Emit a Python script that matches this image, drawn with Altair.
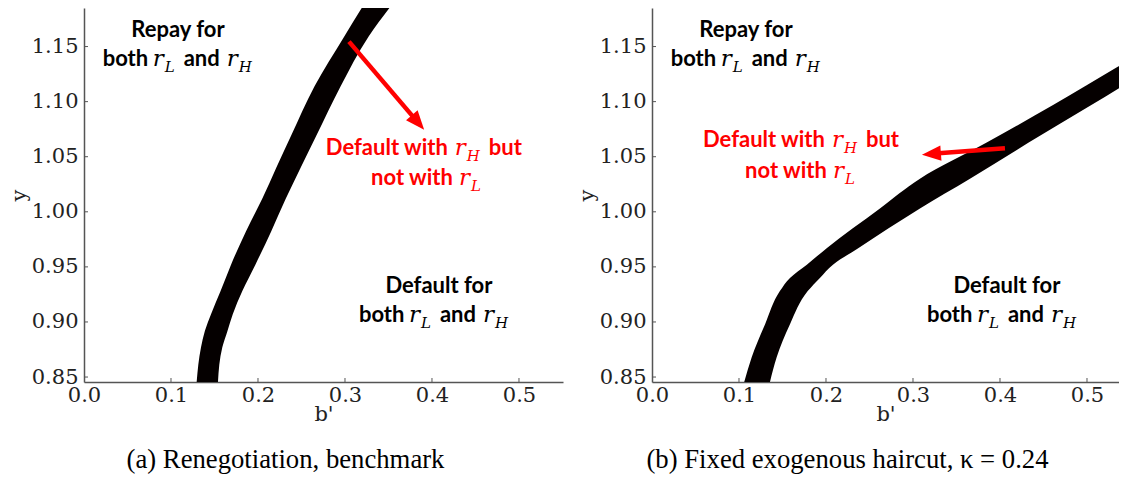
import math
import altair as alt
import pandas as pd

# ---------------- data ----------------
x_ticks = [0.0, 0.1, 0.2, 0.3, 0.4, 0.5]
y_ticks = [0.85, 0.90, 0.95, 1.00, 1.05, 1.10, 1.15]

# panel (a): band edges (x of left and right edge at each y)
a_y = [0.8455, 0.877, 0.892, 0.907, 0.928, 0.952, 0.982, 1.012, 1.040, 1.069, 1.114, 1.159, 1.186]
a_left = [0.1295, 0.1345, 0.139, 0.146, 0.157, 0.169, 0.186, 0.205, 0.221, 0.238, 0.265, 0.299, 0.320]
a_right = [0.154, 0.159, 0.165, 0.171, 0.182, 0.197, 0.215, 0.232, 0.249, 0.267, 0.295, 0.327, 0.352]

# panel (b): band edges
b_y = [0.8455, 0.868, 0.898, 0.928, 0.940, 0.952, 0.967, 1.003, 1.030, 1.0628, 1.097, 1.133, 1.16]
b_left = [0.106, 0.1146, 0.130, 0.147, 0.1586, 0.178, 0.2008, 0.262, 0.308, 0.3847, 0.461, 0.538, 0.596]
b_right = [0.1356, 0.1433, 0.1586, 0.179, 0.193, 0.208, 0.237, 0.308, 0.3655, 0.433, 0.505, 0.580, 0.636]

# arrows: [start, tip]
a_arrow_x = [0.3046, 0.391]
a_arrow_y = [1.1545, 1.0745]
b_arrow_x = [0.4057, 0.3103]
b_arrow_y = [1.0577, 1.0519]

# annotation texts
repay_title = "Repay for"
default_title = "Default for"
both_line = [("both", "t", 0), ("r", "m", 50), ("L", "s", 62), ("and", "t", 81), ("r", "m", 124), ("H", "s", 136)]
red_line1 = [("Default with", "t", 0), ("r", "m", 129), ("H", "s", 141), ("but", "t", 163)]
red_line2 = [("not with", "t", 0), ("r", "m", 88), ("L", "s", 100)]

# annotation anchors (data coords, baselines)
repay_pos = (0.108, 1.159)
repay_both_pos = (0.0215, 1.132)
default_pos = (0.408, 0.9263)
default_both_pos = (0.316, 0.9002)
a_red_pos = [(0.278, 1.0512), (0.330, 1.0242)]
b_red_pos = [(0.0586, 1.0584), (0.107, 1.0305)]

captions = ["(a) Renegotiation, benchmark", "(b) Fixed exogenous haircut, \u03ba = 0.24"]

Y_DOMAIN = [0.8455, 1.185]
A_X_DOMAIN = [0.0, 0.5506]
B_X_DOMAIN = [0.0, 0.5368]
W_A, W_B, H = 479, 467, 374

RED = "#ff0000"
AXIS_COLOR = "#555555"
LABEL_COLOR = "#222222"

STYLES = {
    "t": dict(font="Lato", fontSize=22, fontWeight="bold"),
    "m": dict(font="DejaVu Serif", fontSize=23, fontStyle="italic"),
    "s": dict(font="DejaVu Serif", fontSize=15, fontStyle="italic"),
}

ARROW_SHAPE = "M0,0L-2,-0.8L-2,0.8Z"
HEAD = 19

x_axis = alt.Axis(values=x_ticks, format=".1f", title="b'", ticks=False, grid=False,
                  domainColor=AXIS_COLOR, domainWidth=1.5,
                  labelFont="DejaVu Serif", labelFontSize=21, labelColor=LABEL_COLOR,
                  labelPadding=2, labelFlush=False, labelOverlap=False,
                  titleFont="DejaVu Serif", titleFontSize=21, titleFontWeight="normal",
                  titleColor=LABEL_COLOR, titleY=38, titleBaseline="alphabetic")
y_axis = alt.Axis(values=y_ticks, format=".2f", title="y", ticks=False, grid=False,
                  domainColor=AXIS_COLOR, domainWidth=1.5,
                  labelFont="DejaVu Serif", labelFontSize=21, labelColor=LABEL_COLOR,
                  labelPadding=6, labelFlush=False, labelOverlap=False,
                  titleFont="DejaVu Serif", titleFontSize=21, titleFontWeight="normal",
                  titleColor=LABEL_COLOR, titleX=-59, titleBaseline="alphabetic")


def X(field, xs):
    return alt.X(field, type="quantitative", scale=xs, axis=x_axis)


def Y(field, ys):
    return alt.Y(field, type="quantitative", scale=ys, axis=y_axis)


def text_layer(x, y, text, kind, dx, color, xs, ys, align="left"):
    df = pd.DataFrame({"x": [x], "y": [y], "t": [text]})
    dy = 6 if kind == "s" else 0
    return alt.Chart(df).mark_text(align=align, baseline="alphabetic", dx=dx, dy=dy,
                                   color=color, **STYLES[kind]).encode(
        x=X("x", xs), y=Y("y", ys), text="t:N",
    )


def rich(pos, pieces, color, xs, ys):
    return [text_layer(pos[0], pos[1], t, k, dx, color, xs, ys) for t, k, dx in pieces]


def panel(band_y, band_l, band_r, xdom, width, arrow_x, arrow_y, red_pos, caption):
    xs = alt.Scale(domain=xdom, nice=False, zero=False)
    ys = alt.Scale(domain=Y_DOMAIN, nice=False, zero=False)

    band_df = pd.DataFrame({"y": band_y, "l": band_l, "r": band_r})
    band = alt.Chart(band_df).mark_area(orient="horizontal", color="#050000", clip=True,
                                        interpolate="monotone").encode(
        y=Y("y", ys), x=X("l", xs), x2="r:Q",
    )

    # inward tick marks
    yt = alt.Chart(pd.DataFrame({"v": y_ticks})).mark_rule(color=AXIS_COLOR, strokeWidth=1).encode(
        y=Y("v", ys), x=alt.value(0), x2=alt.value(4))
    xt = alt.Chart(pd.DataFrame({"v": x_ticks[1:]})).mark_rule(color=AXIS_COLOR, strokeWidth=1).encode(
        x=X("v", xs), y=alt.value(H), y2=alt.value(H - 4))

    # arrow geometry in pixels
    ppx = width / (xdom[1] - xdom[0])
    ppy = H / (Y_DOMAIN[1] - Y_DOMAIN[0])
    dxp = (arrow_x[1] - arrow_x[0]) * ppx
    dyp = -(arrow_y[1] - arrow_y[0]) * ppy
    length = math.hypot(dxp, dyp)
    angle = math.degrees(math.atan2(dyp, dxp)) % 360
    frac = 1 - (HEAD * 0.7) / length
    shaft_df = pd.DataFrame({
        "x": [arrow_x[0], arrow_x[0] + frac * (arrow_x[1] - arrow_x[0])],
        "y": [arrow_y[0], arrow_y[0] + frac * (arrow_y[1] - arrow_y[0])],
        "o": [0, 1],
    })
    shaft = alt.Chart(shaft_df).mark_line(color=RED, strokeWidth=4.5, strokeCap="butt").encode(
        x=X("x", xs), y=Y("y", ys), order="o:Q")
    head = alt.Chart(pd.DataFrame({"x": [arrow_x[1]], "y": [arrow_y[1]]})).mark_point(
        shape=ARROW_SHAPE, filled=True, size=HEAD * HEAD, angle=angle, color=RED,
        opacity=1, strokeWidth=0).encode(x=X("x", xs), y=Y("y", ys))

    layers = [band, yt, xt, shaft, head]
    layers.append(text_layer(repay_pos[0], repay_pos[1], repay_title, "t", 0, "black", xs, ys, align="center"))
    layers += rich(repay_both_pos, both_line, "black", xs, ys)
    layers.append(text_layer(default_pos[0], default_pos[1], default_title, "t", 0, "black", xs, ys, align="center"))
    layers += rich(default_both_pos, both_line, "black", xs, ys)
    layers += rich(red_pos[0], red_line1, RED, xs, ys)
    layers += rich(red_pos[1], red_line2, RED, xs, ys)

    return alt.layer(*layers).properties(
        width=width, height=H,
        title=alt.TitleParams(caption, orient="bottom", font="Liberation Serif", fontSize=26.7,
                              fontWeight="normal", color="black", baseline="top", offset=23,
                              anchor="middle", frame="bounds"),
    )


pa = panel(a_y, a_left, a_right, A_X_DOMAIN, W_A, a_arrow_x, a_arrow_y, a_red_pos, captions[0])
pb = panel(b_y, b_left, b_right, B_X_DOMAIN, W_B, b_arrow_x, b_arrow_y, b_red_pos, captions[1])

chart = alt.hconcat(pa, pb, spacing=13).properties(
    padding=0, background="white"
).configure_view(stroke=None)

chart.save("out.html", embed_options={"renderer": "svg", "actions": False})
